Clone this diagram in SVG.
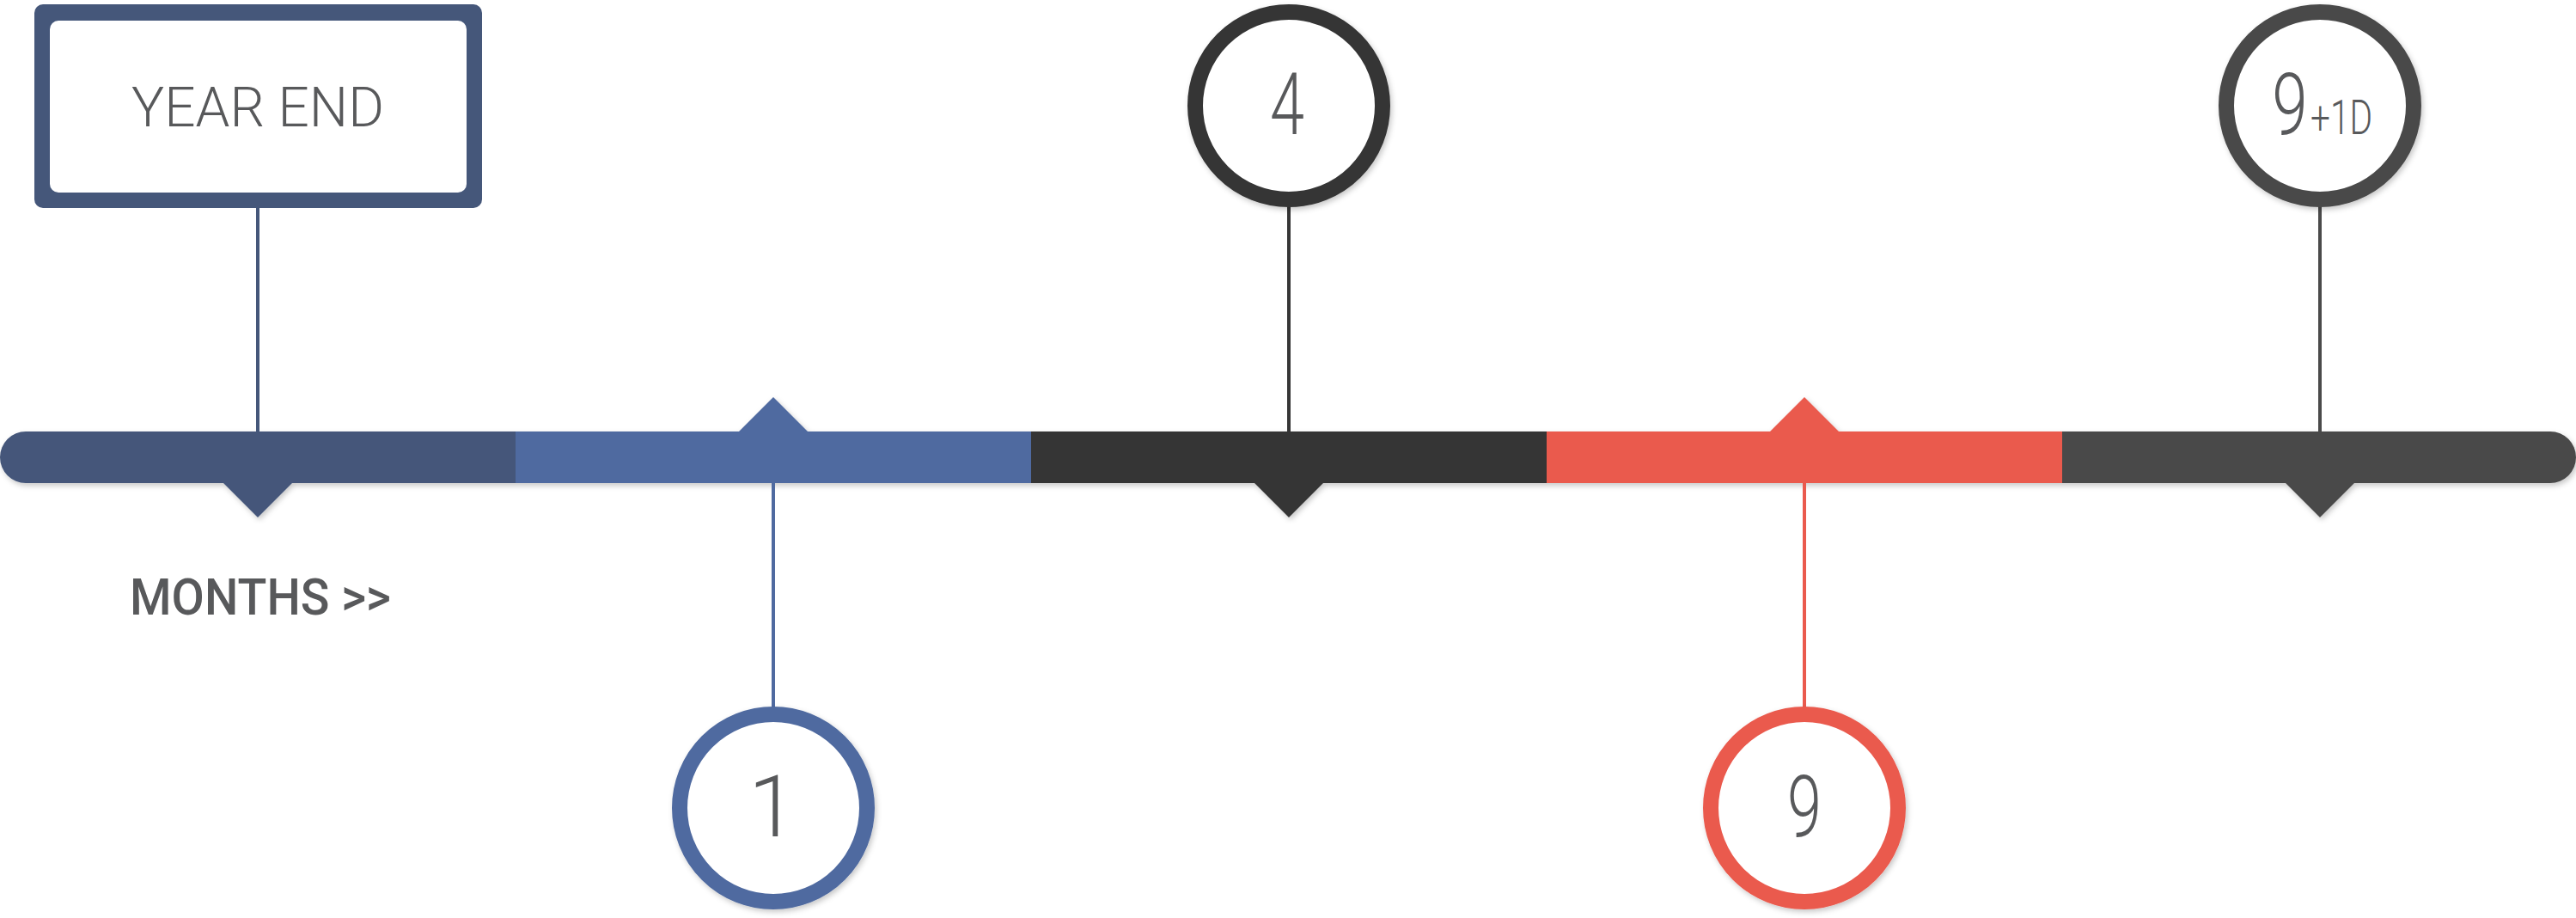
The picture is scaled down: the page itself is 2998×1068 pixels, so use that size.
<svg xmlns="http://www.w3.org/2000/svg" width="2998" height="1068" viewBox="0 0 2998 1068">
  <defs>
    <filter id="sh" x="-10%" y="-10%" width="120%" height="130%">
      <feDropShadow dx="2" dy="3" stdDeviation="3" flood-color="#000" flood-opacity="0.22"/>
    </filter>
  </defs>
  <style>
    .lbl{font-family:Roboto,"Liberation Sans",sans-serif;font-weight:300;fill:#58595b}
    .num{font-size:101px}
    .ring{fill:#fff;stroke-width:18px;filter:url(#sh)}
    .conn{stroke-width:4px;fill:none}
  </style>
  <rect width="2998" height="1068" fill="#fff"/>

  <g id="timeline-bar" filter="url(#sh)">
    <path d="M600,502 H30 A30,30 0 0 0 30,562 H260 L300,602 L340,562 H600 Z" fill="#45577a"/>
    <path d="M600,502 H860 L900,462 L940,502 H1200 V562 H600 Z" fill="#4f6aa0"/>
    <path d="M1200,502 H1800 V562 H1540 L1500,602 L1460,562 H1200 Z" fill="#363636"/>
    <path d="M1800,502 H2060 L2100,462 L2140,502 H2400 V562 H1800 Z" fill="#ea5a4e"/>
    <path d="M2400,502 H2968 A30,30 0 0 1 2968,562 H2740 L2700,602 L2660,562 H2400 Z" fill="#4a4a4a"/>
  </g>

  <g id="connectors">
    <line class="conn" x1="300" y1="242" x2="300" y2="503" stroke="#45577a"/>
    <line class="conn" x1="900" y1="561" x2="900" y2="823" stroke="#4f6aa0"/>
    <line class="conn" x1="1500" y1="240" x2="1500" y2="503" stroke="#363636"/>
    <line class="conn" x1="2100" y1="561" x2="2100" y2="823" stroke="#ea5a4e"/>
    <line class="conn" x1="2700" y1="240" x2="2700" y2="503" stroke="#4a4a4a"/>
  </g>

  <g id="year-end">
    <rect x="40" y="5" width="521" height="237" rx="10" fill="#45577a"/>
    <rect x="58" y="24" width="485" height="200" rx="10" fill="#fff"/>
    <text class="lbl" x="300" y="147" font-size="65" text-anchor="middle" textLength="294" lengthAdjust="spacingAndGlyphs">YEAR END</text>
  </g>

  <g id="months-label">
    <text x="151" y="715" font-family="Roboto,'Liberation Sans',sans-serif" font-weight="500" font-size="60" fill="#58595b" textLength="304" lengthAdjust="spacingAndGlyphs">MONTHS &gt;&gt;</text>
  </g>

  <g id="m1">
    <circle class="ring" cx="900" cy="940" r="109" stroke="#4f6aa0"/>
    <text class="lbl num" x="899" y="973" text-anchor="middle">1</text>
  </g>

  <g id="m4">
    <circle class="ring" cx="1500" cy="123" r="109" stroke="#363636"/>
    <text class="lbl num" x="1498" y="156" text-anchor="middle" textLength="40" lengthAdjust="spacingAndGlyphs">4</text>
  </g>

  <g id="m9">
    <circle class="ring" cx="2100" cy="940" r="109" stroke="#ea5a4e"/>
    <text class="lbl num" x="2100" y="973" text-anchor="middle" textLength="40" lengthAdjust="spacingAndGlyphs">9</text>
  </g>

  <g id="m9plus1d">
    <circle class="ring" cx="2700" cy="123" r="109" stroke="#4a4a4a"/>
    <text class="lbl num" transform="translate(2665,156) scale(0.74,1)" text-anchor="middle">9</text>
    <text class="lbl" x="2689" y="156" font-size="56" textLength="72" lengthAdjust="spacingAndGlyphs">+1D</text>
  </g>
</svg>
